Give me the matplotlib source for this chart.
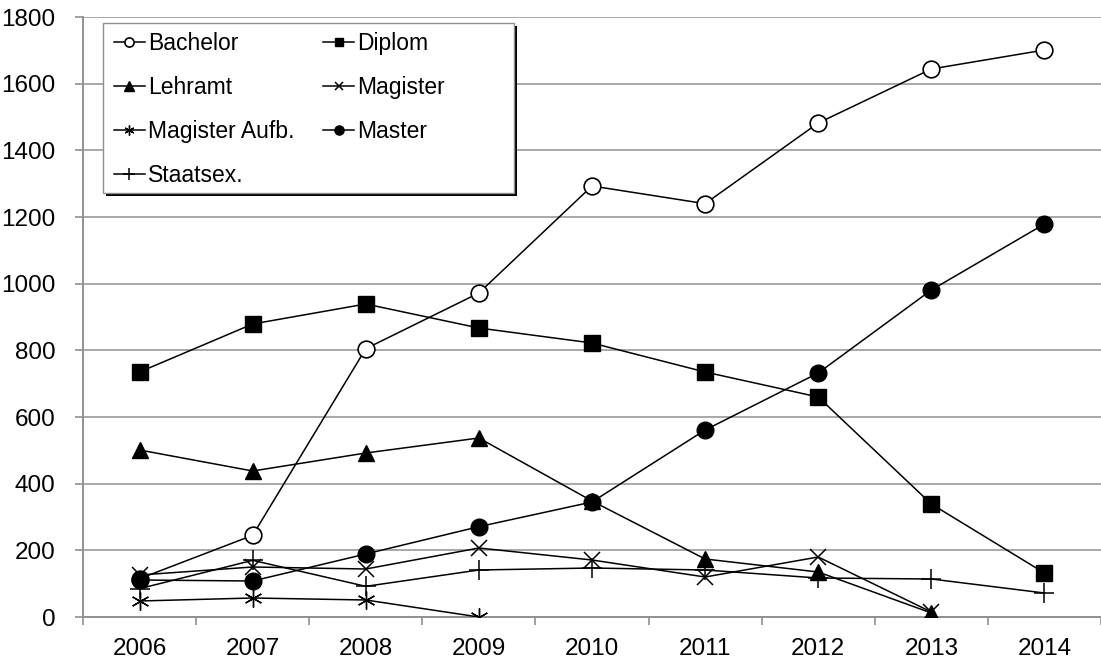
import matplotlib
matplotlib.use("Agg")
import matplotlib.pyplot as plt
from matplotlib.patches import Rectangle
import numpy as np

years = ["2006", "2007", "2008", "2009", "2010", "2011", "2012", "2013", "2014"]
bachelor = [115, 245, 805, 972, 1293, 1240, 1482, 1644, 1701]
diplom = [735, 879, 939, 867, 822, 735, 660, 339, 132]
lehramt = [501, 438, 492, 537, 348, 174, 135, 12, None]
magister = [126, 150, 144, 207, 171, 120, 180, 15, None]
magister_aufb = [48, 57, 51, 0, None, None, None, None, None]
master = [111, 108, 189, 271, 345, 561, 732, 981, 1179]
staatsex = [85, 170, 92, 141, 147, 141, 117, 114, 72]

plt.rcParams['font.family'] = ['Liberation Sans', 'DejaVu Sans']

W, H = 1101, 661
fig = plt.figure(figsize=(W / 100, H / 100), dpi=100)
ax = fig.add_axes([83/W, 1 - 617/H, 1 - 83/W, (617 - 17)/H])

x = np.arange(len(years))

def arr(v):
    return np.array([np.nan if a is None else a for a in v], dtype=float)

series = [
    ("Bachelor", bachelor, dict(marker='o', mfc='white', mec='black', ms=12, mew=1.2)),
    ("Diplom", diplom, dict(marker='s', mfc='black', mec='black', ms=11)),
    ("Lehramt", lehramt, dict(marker='^', mfc='black', mec='black', ms=12)),
    ("Magister", magister, dict(marker='x', mfc='none', mec='black', ms=11, mew=1.1)),
    ("Magister Aufb.", magister_aufb, dict(marker=(6, 2, 0), mfc='none', mec='black', ms=13, mew=1.0)),
    ("Master", master, dict(marker='o', mfc='black', mec='black', ms=12)),
    ("Staatsex.", staatsex, dict(marker='+', mfc='none', mec='black', ms=15, mew=1.1)),
]

handles = {}
for name, vals, style in series:
    h, = ax.plot(x, arr(vals), color='black', lw=1.1, label=name, zorder=3, **style)
    handles[name] = h

ax.set_xlim(-0.5, (W - 140) / 114)
ax.set_ylim(0, 1800)
ax.set_yticks(np.arange(0, 1801, 200))
ax.set_xticks(x)
ax.set_xticklabels(years)
ax.set_xticks(np.arange(-0.5, 8.6, 1), minor=True)
ax.tick_params(axis='x', which='major', length=0, labelsize=17.5, pad=15)
ax.tick_params(axis='x', which='minor', length=6, color='#909090', width=1.2, direction='out')
ax.tick_params(axis='y', length=6, color='#909090', width=1.2, labelsize=17.5, pad=14, direction='out')

ax.grid(axis='y', color='#a8a8a8', lw=1.4, zorder=0)
for s in ['top', 'right']:
    ax.spines[s].set_visible(False)
for s in ['left', 'bottom']:
    ax.spines[s].set_color('#909090')
    ax.spines[s].set_linewidth(1.4)

# legend box (Excel style with hard shadow)
bx0, by0, bx1, by1 = 103, 23, 514, 193
ax.add_patch(Rectangle(((bx0 + 3) / W, 1 - (by1 + 3) / H), (bx1 - bx0) / W, (by1 - by0) / H,
                       transform=fig.transFigure, facecolor='black', edgecolor='none',
                       zorder=10, clip_on=False))
ax.add_patch(Rectangle((bx0 / W, 1 - by1 / H), (bx1 - bx0) / W, (by1 - by0) / H,
                       transform=fig.transFigure, facecolor='white', edgecolor='#909090',
                       lw=1.0, zorder=11, clip_on=False))

order = ["Bachelor", "Lehramt", "Magister Aufb.", "Staatsex.", "Diplom", "Magister", "Master"]
leg = ax.legend(handles=[handles[n] for n in order], ncol=2, loc='upper left',
                bbox_to_anchor=(114/W, 1 - 32/H), bbox_transform=fig.transFigure,
                fontsize=16.5, frameon=False,
                markerscale=0.55, handlelength=1.35, handletextpad=0.13,
                columnspacing=1.25, labelspacing=0.92, borderpad=0, borderaxespad=0)
leg.set_zorder(12)

fig.savefig("out.png", dpi=100)
